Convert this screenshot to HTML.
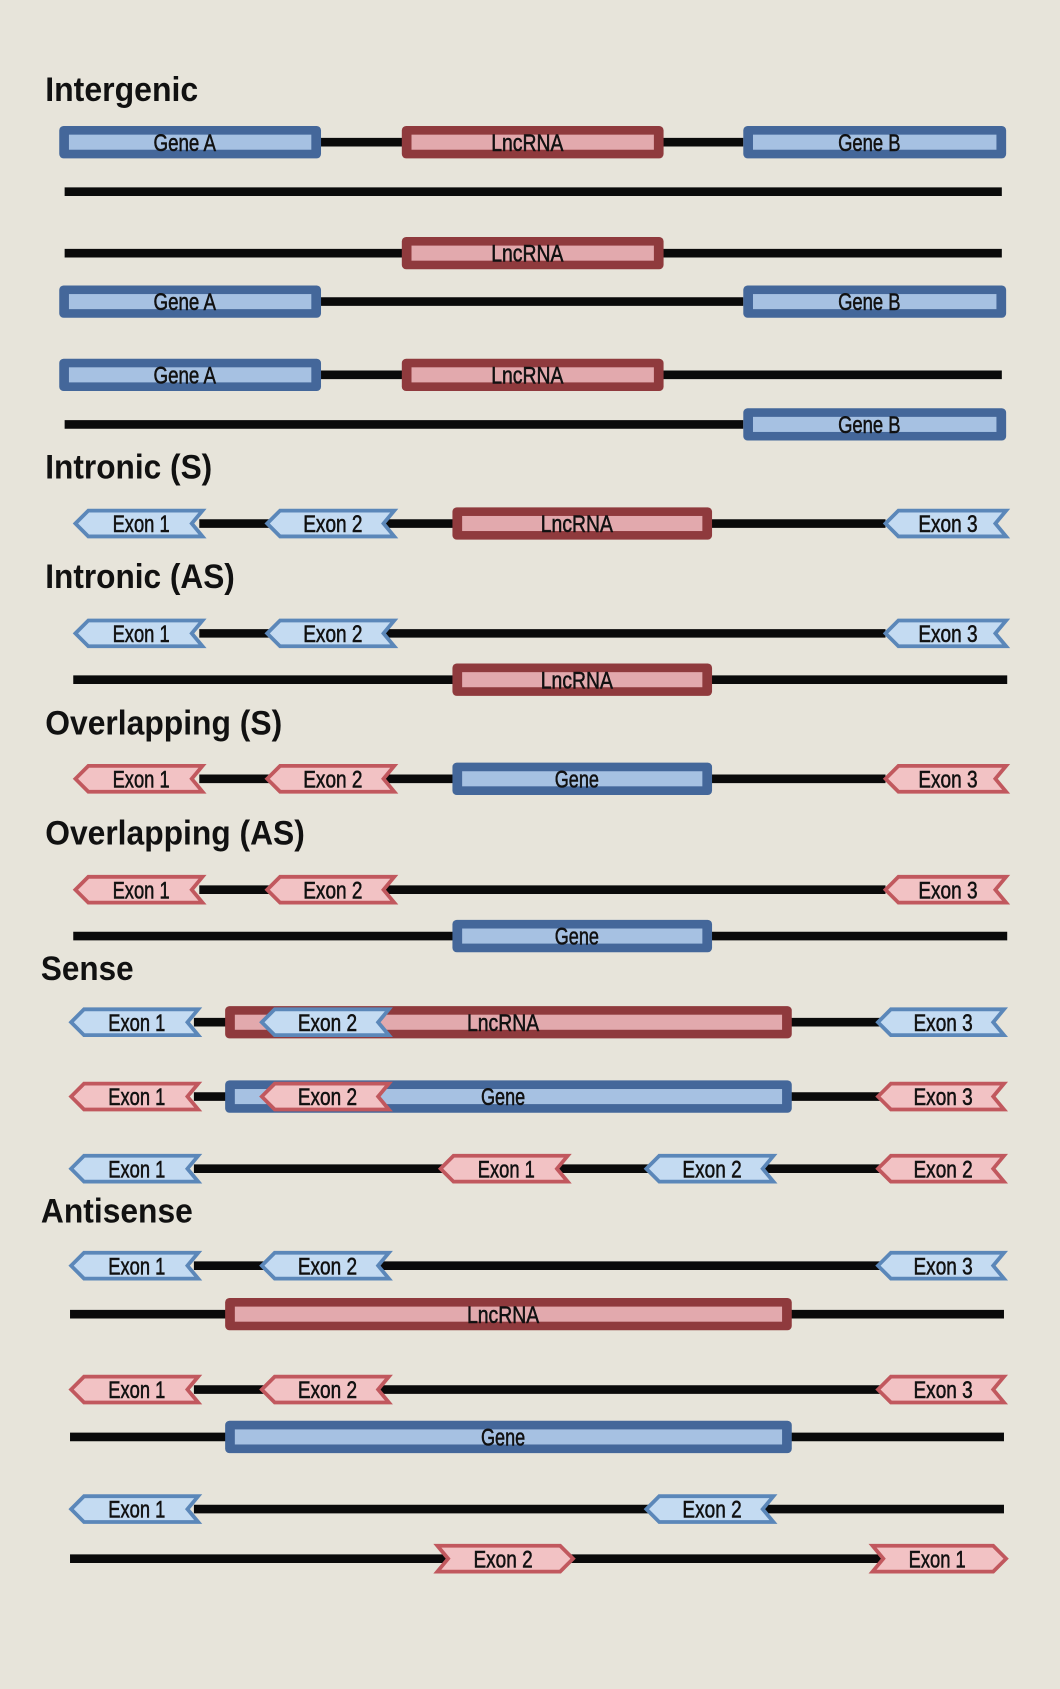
<!DOCTYPE html>
<html><head><meta charset="utf-8">
<style>
html,body{margin:0;padding:0;background:#e7e4da;}
svg{display:block;}
text{font-family:"Liberation Sans",sans-serif;}
</style></head>
<body>
<svg id="fig" width="1060" height="1689" viewBox="0 0 984 1568" preserveAspectRatio="none" xmlns="http://www.w3.org/2000/svg">
<rect x="0" y="0" width="984" height="1568" fill="#e7e4da"/>
</svg>
<script>
// Section titles: [label, x, y, width]
const titles = [
 ["Intergenic",42,94,142],["Intronic (S)",42,444,155],["Intronic (AS)",42,546,176],
 ["Overlapping (S)",42,682,220],["Overlapping (AS)",42,784,241],["Sense",38,910,86],["Antisense",38,1135,141]
];
// Genomic lines: [x1, x2, y]
const lines = [
 [298,690,132],[60,930,178],[60,930,235],[298,690,280],[298,930,348],[60,690,394],
 [185,822,486],[185,822,588],[68,935,631],[185,822,723],[185,822,826],[68,935,869],
 [180,820,949],[180,820,1018],[180,820,1085],[180,820,1175],[65,932,1220],
 [180,820,1290],[65,932,1334],[180,932,1401],[65,932,1447]
];
// Boxes: [x1, x2, y, color, label]
const boxes = [
 [55,298,132,"b","Gene A"],[373,616,132,"r","LncRNA"],[690,934,132,"b","Gene B"],
 [373,616,235,"r","LncRNA"],[55,298,280,"b","Gene A"],[690,934,280,"b","Gene B"],
 [55,298,348,"b","Gene A"],[373,616,348,"r","LncRNA"],[690,934,394,"b","Gene B"],
 [420,661,486,"r","LncRNA"],[420,661,631,"r","LncRNA"],[420,661,723,"b","Gene"],
 [420,661,869,"b","Gene"],[209,735,949,"r","LncRNA"],[209,735,1018,"b","Gene"],
 [209,735,1220,"r","LncRNA"],[209,735,1334,"b","Gene"]
];
// Exon arrows: [x1, x2, y, color, direction, label]
const arrows = [
 [70,188,486,"b","L","Exon 1"],[248,366,486,"b","L","Exon 2"],[822,934,486,"b","L","Exon 3"],
 [70,188,588,"b","L","Exon 1"],[248,366,588,"b","L","Exon 2"],[822,934,588,"b","L","Exon 3"],
 [70,188,723,"r","L","Exon 1"],[248,366,723,"r","L","Exon 2"],[822,934,723,"r","L","Exon 3"],
 [70,188,826,"r","L","Exon 1"],[248,366,826,"r","L","Exon 2"],[822,934,826,"r","L","Exon 3"],
 [66,184,949,"b","L","Exon 1"],[243,361,949,"b","L","Exon 2"],[815,932,949,"b","L","Exon 3"],
 [66,184,1018,"r","L","Exon 1"],[243,361,1018,"r","L","Exon 2"],[815,932,1018,"r","L","Exon 3"],
 [66,184,1085,"b","L","Exon 1"],[409,527,1085,"r","L","Exon 1"],[600,718,1085,"b","L","Exon 2"],[815,932,1085,"r","L","Exon 2"],
 [66,184,1175,"b","L","Exon 1"],[243,361,1175,"b","L","Exon 2"],[815,932,1175,"b","L","Exon 3"],
 [66,184,1290,"r","L","Exon 1"],[243,361,1290,"r","L","Exon 2"],[815,932,1290,"r","L","Exon 3"],
 [66,184,1401,"b","L","Exon 1"],[600,718,1401,"b","L","Exon 2"],
 [406,532,1447,"r","R","Exon 2"],[810,934,1447,"r","R","Exon 1"]
];
const labelW={"Exon 1":53,"Exon 2":55,"Exon 3":55,"Gene A":58,"Gene B":58,"LncRNA":67,"Gene":41};
const NS="http://www.w3.org/2000/svg";
const svg=document.getElementById("fig");
const boxCol={b:["#44679a","#a6c1e2"],r:["#8f3a3d","#e2a9ad"]};
const arrCol={b:["#5b87b9","#c4dbf2"],r:["#c1585e","#f2c2c4"]};
function mk(tag,attrs,parent){const e=document.createElementNS(NS,tag);for(const k in attrs)e.setAttribute(k,attrs[k]);(parent||svg).appendChild(e);return e;}
function lbl(g,cx,y,s){
 const w=labelW[s]||50;
 const t=mk("text",{x:cx-w/2,y:y+8,"font-size":22,fill:"#111",stroke:"#111","stroke-width":0.5,textLength:w,lengthAdjust:"spacingAndGlyphs"},g);
 t.textContent=s;
}
lines.forEach(l=>{
 const e=mk("line",{x1:l[0],x2:l[1],y1:l[2],y2:l[2],stroke:"#0a0a0a","stroke-width":8});
 
 
});
titles.forEach(t=>{
 const e=mk("text",{x:t[1],y:t[2],"font-size":32,"font-weight":"bold",fill:"#111",textLength:t[3],lengthAdjust:"spacingAndGlyphs"});
 e.textContent=t[0];
 
 
});
boxes.forEach(b=>{
 const g=mk("g",{});
 
 
 const c=boxCol[b[3]];
 mk("rect",{x:b[0],y:b[2]-15,width:b[1]-b[0],height:30,rx:4,fill:c[0]},g);
 mk("rect",{x:b[0]+9,y:b[2]-7,width:b[1]-b[0]-18,height:14,fill:c[1]},g);
 lbl(g,(b[0]+b[1])/2-5,b[2],b[4]);
});
arrows.forEach(a=>{
 const g=mk("g",{});
 
 
 const c=arrCol[a[3]],x1=a[0],x2=a[1],y=a[2],h=12;
 let p;
 if(a[4]==="L") p=[[x1,y],[x1+12,y-h],[x2,y-h],[x2-10,y],[x2,y+h],[x1+12,y+h]];
 else p=[[x2,y],[x2-12,y-h],[x1,y-h],[x1+10,y],[x1,y+h],[x2-12,y+h]];
 mk("polygon",{points:p.map(q=>q.join(",")).join(" "),fill:c[1],stroke:c[0],"stroke-width":3.5,"stroke-linejoin":"miter"},g);
 lbl(g,(x1+x2)/2+(a[4]==="L"?2:-2),y,a[5]);
});
</script>
</body></html>
